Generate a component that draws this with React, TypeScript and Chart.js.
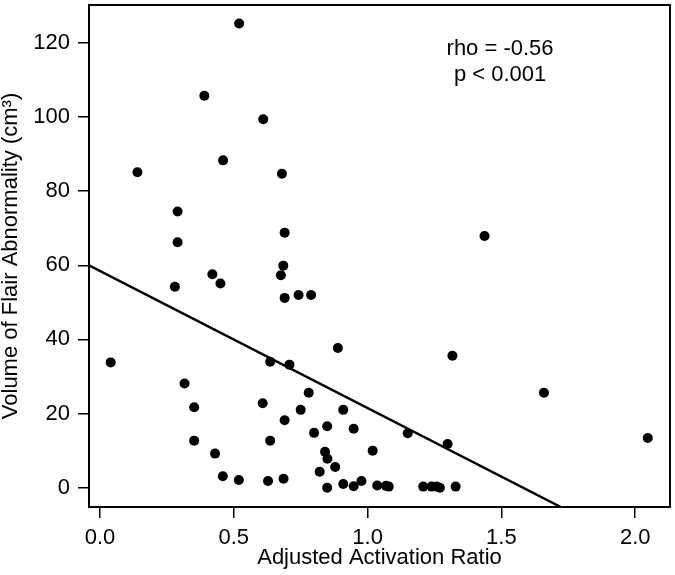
import React, { useEffect, useRef } from "react";
import { Chart, registerables } from "chart.js";

Chart.register(...registerables);

// Adjusted activation ratio (x) and volume of FLAIR abnormality in cm³ (y)
const activationRatio = [
  0.52, 0.39, 0.61, 0.46, 0.14, 0.68, 0.29, 0.69, 0.29,
  0.685, 0.676, 0.42, 0.45, 0.28, 0.69, 0.04, 0.636, 0.316, 0.352,
  0.608, 0.69, 0.352, 0.636, 0.43, 0.459, 0.519, 0.628, 0.686,
  0.742, 0.789, 0.889, 0.708, 1.317, 0.78, 0.75, 0.909,
  0.849, 0.80, 0.948, 1.15, 1.299, 0.841, 0.85, 1.019, 0.879, 0.821,
  0.849, 0.909, 0.948, 0.977, 1.036, 1.069, 1.079,
  1.208, 1.239, 1.258, 1.27, 1.329, 1.659, 2.047, 1.437,
];
const flairVolume = [
  125.2, 105.7, 99.4, 88.3, 85.1, 84.7, 74.5, 68.8, 66.2,
  59.9, 57.3, 57.6, 55.1, 54.2, 51.2, 33.8, 34.0, 28.1, 21.7,
  22.8, 18.2, 12.7, 12.7, 9.2, 3.1, 2.1, 1.8, 2.4,
  52.0, 52.0, 37.7, 33.2, 35.6, 25.6, 21.0, 21.0,
  16.6, 14.8, 15.9, 14.7, 11.8, 9.7, 7.8, 10.0, 5.6, 4.3,
  0.0, 1.0, 0.4, 1.8, 0.6, 0.5, 0.3,
  0.3, 0.3, 0.3, 0.0, 0.3, 25.6, 13.4, 67.9,
];

// Fitted regression line end points
const fitLineX = [-0.041, 1.722];
const fitLineY = [60.0, -5.2];

const xTickValues = [0, 0.5, 1.0, 1.5, 2.0];
const yTickValues = [0, 20, 40, 60, 80, 100, 120];
const xRange = [-0.041, 2.13];
const yRange = [-5.2, 130.2];

const xTitle = "Adjusted Activation Ratio";
const yTitle = "Volume of Flair Abnormality (cm³)";
const annotationLines = ["rho = -0.56", "p < 0.001"];
const annotationX = 1.495;
const annotationY = [116.8, 109.8];

const FONT = "'Liberation Sans', Arial, Helvetica, sans-serif";

const boxAndTextPlugin = {
  id: "boxAndText",
  afterDatasetsDraw(chart: any) {
    const { ctx, chartArea, scales } = chart;
    ctx.save();
    ctx.strokeStyle = "#000";
    ctx.lineWidth = 2;
    ctx.strokeRect(
      chartArea.left,
      chartArea.top,
      chartArea.right - chartArea.left,
      chartArea.bottom - chartArea.top
    );
    ctx.fillStyle = "#000";
    ctx.font = `22px ${FONT}`;
    ctx.textAlign = "center";
    ctx.textBaseline = "alphabetic";
    annotationLines.forEach((t, i) => {
      const px = scales.x.getPixelForValue(annotationX);
      const py = scales.y.getPixelForValue(annotationY[i]);
      ctx.fillText(t, px, py);
    });
    ctx.restore();
  },
};

const zeroPadding = (s: any) => {
  s.paddingTop = 0;
  s.paddingBottom = 0;
  s.paddingLeft = 0;
  s.paddingRight = 0;
};

export default function App() {
  const canvasRef = useRef<HTMLCanvasElement | null>(null);

  useEffect(() => {
    if (!canvasRef.current) return;
    const points = activationRatio.map((x, i) => ({ x, y: flairVolume[i] }));
    const fit = fitLineX.map((x, i) => ({ x, y: fitLineY[i] }));
    const chart = new Chart(canvasRef.current, {
      type: "scatter",
      data: {
        datasets: [
          {
            label: "fit",
            data: fit,
            showLine: true,
            borderColor: "#000",
            borderWidth: 2.5,
            pointRadius: 0,
            fill: false,
            order: 2,
          } as any,
          {
            label: "patients",
            data: points,
            pointRadius: 5,
            pointHoverRadius: 5,
            backgroundColor: "#000",
            borderWidth: 0,
            order: 1,
          },
        ],
      },
      options: {
        animation: false,
        responsive: false,
        devicePixelRatio: 1,
        layout: { padding: { top: 2, right: 2, left: 0, bottom: 0 } },
        plugins: {
          legend: { display: false },
          tooltip: { enabled: false },
        },
        scales: {
          x: {
            type: "linear",
            min: xRange[0],
            max: xRange[1],
            afterBuildTicks: (axis: any) => {
              axis.ticks = xTickValues.map((v) => ({ value: v }));
            },
            afterFit: (s: any) => {
              s.height = 68;
              zeroPadding(s);
            },
            border: { display: false },
            grid: {
              display: true,
              drawOnChartArea: false,
              drawTicks: true,
              tickLength: 11,
              color: "#000",
              lineWidth: 1.5,
            },
            ticks: {
              color: "#000",
              font: { family: FONT, size: 22 },
              padding: 7,
              maxRotation: 0,
              callback: (v: any) => Number(v).toFixed(1),
            },
            title: {
              display: true,
              text: xTitle,
              color: "#000",
              font: { family: FONT, size: 22, lineHeight: 1 },
              padding: { top: 0, bottom: 6 },
            },
          },
          y: {
            type: "linear",
            min: yRange[0],
            max: yRange[1],
            afterBuildTicks: (axis: any) => {
              axis.ticks = yTickValues.map((v) => ({ value: v }));
            },
            afterFit: (s: any) => {
              s.width = 89;
              zeroPadding(s);
            },
            border: { display: false },
            grid: {
              display: true,
              drawOnChartArea: false,
              drawTicks: true,
              tickLength: 11,
              color: "#000",
              lineWidth: 1.5,
            },
            ticks: {
              color: "#000",
              font: { family: FONT, size: 22 },
              padding: 8,
              callback: (v: any) => String(v),
            },
            title: {
              display: true,
              text: yTitle,
              color: "#000",
              font: { family: FONT, size: 22, lineHeight: 1 },
              padding: { top: 0, bottom: 0 },
            },
          },
        },
      },
      plugins: [boxAndTextPlugin],
    });
    return () => chart.destroy();
  }, []);

  return (
    <div
      style={{
        position: "absolute",
        left: 0,
        top: 0,
        width: 675,
        height: 575,
        background: "#fff",
      }}
    >
      <canvas ref={canvasRef} width={675} height={575} style={{ width: 675, height: 575 }} />
    </div>
  );
}
